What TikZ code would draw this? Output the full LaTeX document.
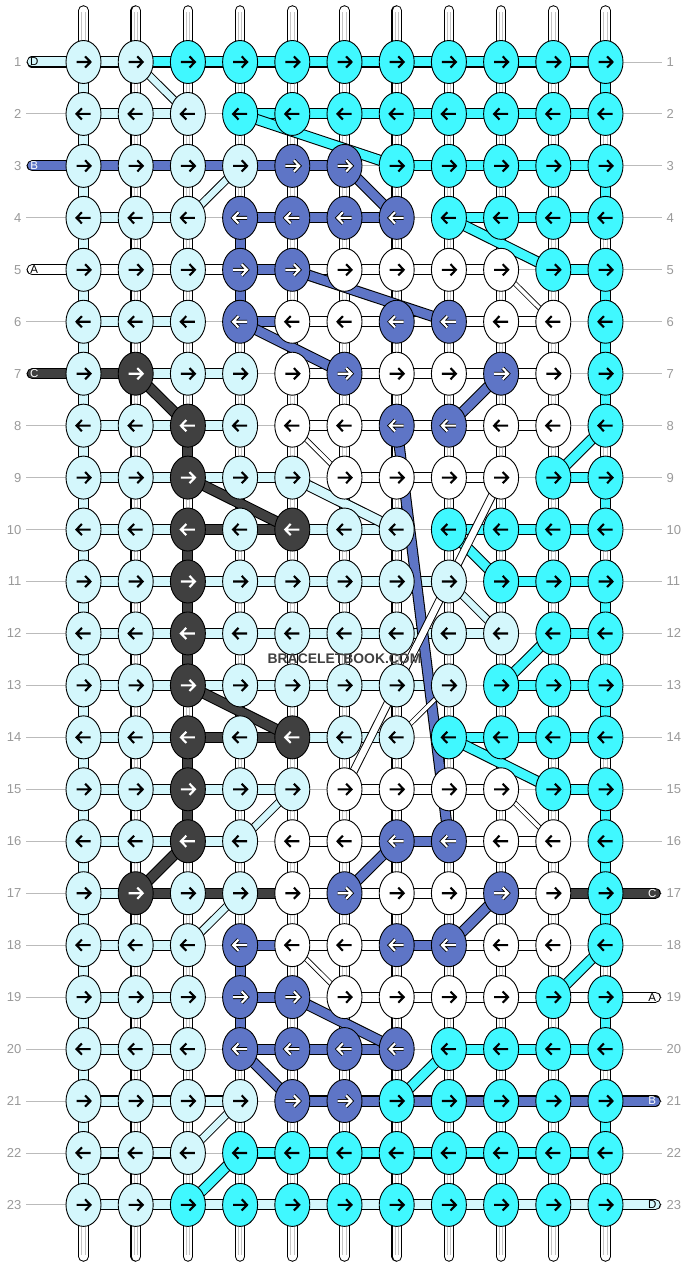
\documentclass[tikz,border=0pt]{standalone}
\usepackage{fontspec}
\setmainfont{Liberation Sans}
\usetikzlibrary{shapes.geometric}
\definecolor{kL}{HTML}{D4F7FC}
\definecolor{kC}{HTML}{40F8FF}
\definecolor{kB}{HTML}{5E75C6}
\definecolor{kK}{HTML}{404040}
\definecolor{kW}{HTML}{FFFFFF}
\definecolor{guide}{HTML}{BBBBBB}
\definecolor{numgray}{HTML}{9A9A9A}
\definecolor{tubegray}{HTML}{C4C4C4}
\begin{document}
\begin{tikzpicture}[x=1pt,y=-1pt,
  conn/.style={double=#1,double distance=9pt,line width=1.05pt},
  slim/.style={double=#1,double distance=6.5pt,line width=0.95pt},
  hair/.style={double=#1,double distance=3.5pt,line width=0.8pt},
  tube/.style={double=white,double distance=8.4pt,line width=1.05pt,line cap=round},
  knot/.style={ellipse,draw=black,line width=0.9pt,minimum width=35pt,minimum height=43pt,inner sep=0pt},
  arrowL/.style={draw=black}, arrowC/.style={draw=black}, arrowW/.style={draw=black},
  arrowB/.style={draw=white,preaction={draw=black,line width=3.8pt}},
  arrowK/.style={draw=white},
  num/.style={text=numgray,font=\fontsize{13}{13}\selectfont,inner sep=0pt},
  tabtxt/.style={font=\fontsize{11.5}{11.5}\selectfont,inner sep=0pt},
]
\useasboundingbox (0,0) rectangle (688,1268);
\fill[white] (0,0) rectangle (688,1268);

% grid coordinates
\foreach \r in {1,...,23}{
  \foreach \c in {1,...,11}{
    \coordinate (p-\r-\c) at ({83.5+52.2*(\c-1)},{62+51.95*(\r-1)});
  }
  \coordinate (gl-\r) at (26,{62+51.95*(\r-1)});
  \coordinate (gr-\r) at (662,{62+51.95*(\r-1)});
  \coordinate (ta-\r) at (32.2,{62+51.95*(\r-1)});
  \coordinate (tb-\r) at (655.3,{62+51.95*(\r-1)});
}
\foreach \c in {1,...,11}{
  \coordinate (t-\c) at ({83.5+52.2*(\c-1)},10.5);
  \coordinate (b-\c) at ({83.5+52.2*(\c-1)},1256.5);
}

% row guide lines
\foreach \r in {1,...,23} \draw[guide,line width=0.9pt] (gl-\r) -- (gr-\r);

% vertical base strings
\foreach \c in {1,...,11}{
  \draw[tube] (t-\c) -- (b-\c);
  \draw[tubegray,line width=0.7pt] ([xshift=-1.7pt,yshift=-2pt]t-\c) -- ([xshift=-1.7pt,yshift=2pt]b-\c);
  \draw[tubegray,line width=0.7pt] ([xshift=1.7pt,yshift=-2pt]t-\c) -- ([xshift=1.7pt,yshift=2pt]b-\c);
}

% horizontal connectors
\foreach \r/\lst in {
 1/{1/L,2/C,3/C,4/C,5/C,6/C,7/C,8/C,9/C,10/C},
 2/{1/L,2/L,4/C,5/C,6/C,7/C,8/C,9/C,10/C},
 3/{1/B,2/B,3/B,4/B,5/B,7/C,8/C,9/C,10/C},
 4/{1/L,2/L,4/B,5/B,6/B,8/C,9/C,10/C},
 5/{1/W,2/W,3/W,4/B,5/W,6/W,7/W,8/W,10/C},
 6/{1/L,2/L,4/B,5/W,6/W,7/W,8/W,9/W},
 7/{1/K,2/L,3/L,5/W,6/W,7/W,8/W,9/W},
 8/{1/L,2/L,3/L,5/W,6/W,7/W,8/W,9/W},
 9/{1/L,2/L,3/L,4/L,6/W,7/W,8/W,10/C},
 10/{1/L,2/L,3/K,4/K,5/L,6/L,8/C,9/C,10/C},
 11/{1/L,2/L,3/L,4/L,5/L,6/L,7/L,9/C,10/C},
 12/{1/L,2/L,3/L,4/L,5/L,6/L,7/L,8/L,10/C},
 13/{1/L,2/L,3/L,4/L,5/L,6/L,7/L,9/C,10/C},
 14/{1/L,2/L,3/K,4/K,5/L,6/L,8/C,9/C,10/C},
 15/{1/L,2/L,3/L,4/L,6/W,7/W,8/W,10/C},
 16/{1/L,2/L,3/L,5/W,6/W,7/B,8/W,9/W},
 17/{1/L,2/K,3/K,4/K,5/W,6/W,7/W,8/W,9/W,10/K},
 18/{1/L,2/L,4/B,5/W,6/W,7/B,8/W,9/W},
 19/{1/L,2/L,4/B,6/W,7/W,8/W,9/W,10/W},
 20/{1/L,2/L,4/B,5/B,6/B,8/C,9/C,10/C},
 21/{1/L,2/L,3/L,5/B,6/B,7/B,8/B,9/B,10/B},
 22/{1/L,2/L,4/C,5/C,6/C,7/C,8/C,9/C,10/C},
 23/{1/L,2/L,3/L,4/L,5/L,6/L,7/L,8/L,9/L,10/L}}{
  \foreach \c/\k in \lst {
    \pgfmathtruncatemacro\cn{\c+1}
    \draw[conn=k\k] (p-\r-\c) -- (p-\r-\cn);
  }
}

% vertical coloured connectors
\foreach \r in {1,...,22}{
  \pgfmathtruncatemacro\rn{\r+1}
  \draw[conn=kL] (p-\r-1) -- (p-\rn-1);
}
\foreach \r/\c/\k in {1/11/C,3/11/C,5/11/C,6/11/C,7/11/C,9/11/C,11/11/C,13/11/C,
  15/11/C,16/11/C,17/11/C,19/11/C,21/11/C,
  8/3/K,10/3/K,11/3/K,12/3/K,14/3/K,15/3/K,
  4/4/B,5/4/B,18/4/B,19/4/B}{
  \pgfmathtruncatemacro\rn{\r+1}
  \draw[conn=k\k] (p-\r-\c) -- (p-\rn-\c);
}

% string tabs
\foreach \r/\k/\t/\tc in {1/L/D/black,3/B/B/white,5/W/A/black,7/K/C/white}{
  \draw[conn=k\k,line cap=round] (ta-\r) -- (p-\r-1);
  \node[tabtxt,text=\tc] (tl-\r) at ([xshift=2pt]ta-\r) {\t};
}
\foreach \r/\k/\t/\tc in {17/K/C/white,19/W/A/black,21/B/B/white,23/L/D/black}{
  \draw[conn=k\k,line cap=round] (p-\r-11) -- (tb-\r);
  \node[tabtxt,text=\tc] (tr-\r) at ([xshift=-3pt]tb-\r) {\t};
}

% diagonal connectors
\foreach \ra/\ca/\rb/\cb/\k in {
  7/2/8/3/K, 9/3/10/5/K, 13/3/14/5/K, 16/3/17/2/K,
  3/6/4/7/B, 5/5/6/8/B, 6/4/7/6/B, 7/9/8/8/B, 8/7/16/8/B, 16/7/17/6/B,
  17/9/18/8/B, 19/5/20/7/B, 20/4/21/5/B,
  2/4/3/7/C, 4/8/5/10/C, 8/11/9/10/C, 10/8/11/9/C, 12/10/13/9/C,
  14/8/15/10/C, 18/11/19/10/C, 20/8/21/7/C, 22/4/23/3/C,
  9/5/10/7/L}{
  \draw[conn=k\k] (p-\ra-\ca) -- (p-\rb-\cb);
}
\foreach \ra/\ca/\rb/\cb/\k in {
  1/2/2/3/L, 3/4/4/3/L, 15/5/16/4/L, 17/4/18/3/L, 21/4/22/3/L, 11/8/12/9/L,
  9/9/15/6/W}{
  \draw[slim=k\k] (p-\ra-\ca) -- (p-\rb-\cb);
}
\foreach \ra/\ca/\rb/\cb in {5/9/6/10, 8/5/9/6, 15/9/16/10, 18/5/19/6, 13/8/14/7}{
  \draw[hair=white] (p-\ra-\ca) -- (p-\rb-\cb);
}

% knots
\foreach \r/\cols in {
 1/{L,L,C,C,C,C,C,C,C,C,C},
 2/{L,L,L,C,C,C,C,C,C,C,C},
 3/{L,L,L,L,B,B,C,C,C,C,C},
 4/{L,L,L,B,B,B,B,C,C,C,C},
 5/{L,L,L,B,B,W,W,W,W,C,C},
 6/{L,L,L,B,W,W,B,B,W,W,C},
 7/{L,K,L,L,W,B,W,W,B,W,C},
 8/{L,L,K,L,W,W,B,B,W,W,C},
 9/{L,L,K,L,L,W,W,W,W,C,C},
 10/{L,L,K,L,K,L,L,C,C,C,C},
 11/{L,L,K,L,L,L,L,L,C,C,C},
 12/{L,L,K,L,L,L,L,L,L,C,C},
 13/{L,L,K,L,L,L,L,L,C,C,C},
 14/{L,L,K,L,K,L,L,C,C,C,C},
 15/{L,L,K,L,L,W,W,W,W,C,C},
 16/{L,L,K,L,W,W,B,B,W,W,C},
 17/{L,K,L,L,W,B,W,W,B,W,C},
 18/{L,L,L,B,W,W,B,B,W,W,C},
 19/{L,L,L,B,B,W,W,W,W,C,C},
 20/{L,L,L,B,B,B,B,C,C,C,C},
 21/{L,L,L,L,B,B,C,C,C,C,C},
 22/{L,L,L,C,C,C,C,C,C,C,C},
 23/{L,L,C,C,C,C,C,C,C,C,C}}{
  \pgfmathsetmacro\dir{isodd(\r) ? 1 : -1}
  \foreach \k [count=\c] in \cols {
    \node[knot,fill=k\k] (n-\r-\c) at (p-\r-\c) {};
    \begin{scope}[shift={(p-\r-\c)},xscale=\dir]
      \draw[line width=2.1pt,arrow\k] (-7,0) -- (7,0) (1.6,-5.6) -- (7,0) -- (1.6,5.6);
    \end{scope}
  }
}

% watermark
\node[font=\bfseries\fontsize{13.9}{14}\selectfont,text=kK] (wm) at (344.5,659) {BRACELETBOOK.COM};

% row numbers
\foreach \r in {1,...,23}{
  \node[num,anchor=east] (nl-\r) at ([xshift=-4.5pt]gl-\r) {\r};
  \node[num,anchor=west] (nr-\r) at ([xshift=4.5pt]gr-\r) {\r};
}
\end{tikzpicture}
\end{document}
